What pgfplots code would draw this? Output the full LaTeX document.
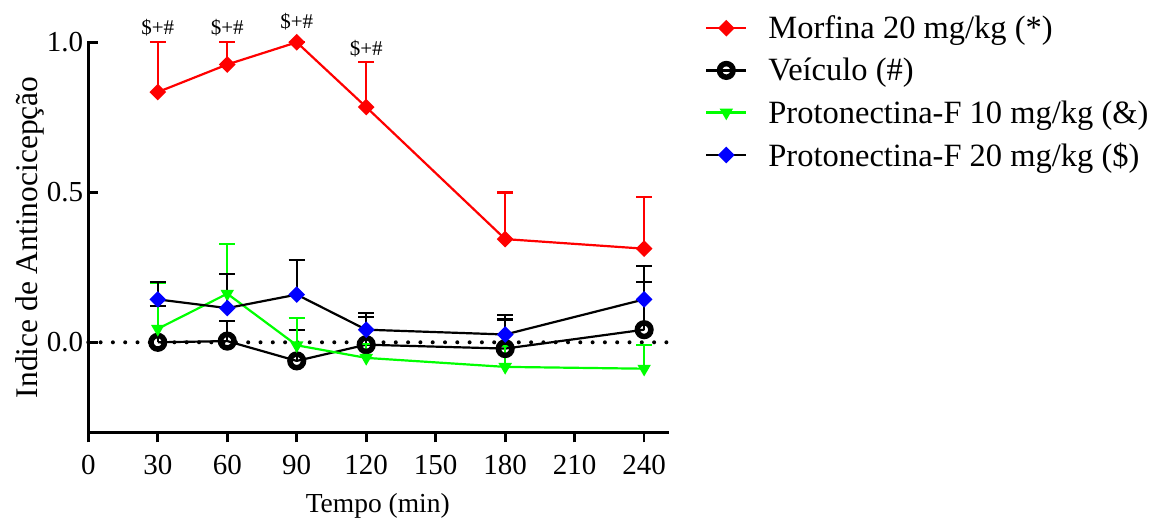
\documentclass[border=0pt]{standalone}
\usepackage{pgfplots}
\pgfplotsset{compat=1.18}
\usepackage{fontspec}
\setmainfont{Liberation Serif}
\definecolor{cred}{RGB}{255,0,0}
\definecolor{cgreen}{RGB}{0,255,0}
\definecolor{cblue}{RGB}{0,0,255}
\pgfdeclareplotmark{thicko}{%
  \pgfsetlinewidth{5.5pt}%
  \pgfpathcircle{\pgfpointorigin}{\pgfplotmarksize}%
  \pgfusepathqstroke}
\begin{document}
\begin{tikzpicture}
\path[use as bounding box] (-88.3pt,-85.7pt) rectangle (1065.7pt,432.3pt);
% overlay axis: only the outward x ticks
\begin{axis}[
  at={(0pt,0pt)}, anchor=south west,
  width=579pt, height=390pt, scale only axis,
  xmin=0, xmax=250, ymin=-0.3, ymax=1.0,
  axis x line*=bottom, axis y line=none,
  axis line style={line width=2.7pt, line cap=rect},
  xtick={0,30,...,240}, xticklabels={}, ytick=\empty,
  tick align=outside, major tick length=10pt,
  every tick/.style={black, line width=2.7pt},
]
\end{axis}
\begin{axis}[
  at={(0pt,0pt)}, anchor=south west,
  width=579pt, height=390pt, scale only axis,
  xmin=0, xmax=250, ymin=-0.3, ymax=1.0,
  clip=false,
  axis x line*=bottom, axis y line*=left,
  axis line style={line width=2.7pt, line cap=rect},
  xtick={0,30,...,240}, ytick={0,0.5,1},
  tick align=inside,
  major tick length=10pt,
  every tick/.style={black, line width=2.7pt},
  xtick style={draw=none},
  minor tick num=0,
  /pgf/number format/assume math mode=true,
  yticklabel style={/pgf/number format/fixed, /pgf/number format/fixed zerofill, /pgf/number format/precision=1, inner sep=0pt, anchor=east, xshift=-5pt},
  tick label style={font=\fontsize{29}{34}\selectfont},
  xticklabel style={anchor=base, inner sep=0pt, yshift=-42.7pt},
  xlabel={Tempo (min)},
  ylabel={Indice de Antinocicepção},
  every axis x label/.style={at={(axis description cs:0.5,0)}, yshift=-80.7pt, anchor=base, font=\fontsize{27.5}{32}\selectfont},
  every axis y label/.style={at={(axis description cs:-0.1007,0.5)}, rotate=90, anchor=center, font=\fontsize{31.5}{36}\selectfont},
  legend style={at={(axis description cs:1.0651,1.068)}, anchor=north west, draw=none, fill=none,
    inner sep=0pt, nodes={inner sep=0pt}, column sep=21pt, row sep=18pt,
    font=\fontsize{32.5}{37}\selectfont},
  legend cell align=left,
  legend image code/.code={\draw[mark repeat=2,mark phase=2] plot coordinates {(0pt,0pt) (20pt,0pt) (40pt,0pt)};},
]
\addplot[forget plot, black, line width=4pt, line cap=round, dash pattern=on 0pt off 12.3pt] coordinates {(0,0) (250,0)};

\addplot[cred, line width=2.2pt, mark=square*, mark size=4.8pt, mark options={rotate=45, solid},
  error bars/.cd, y dir=plus, y explicit, error bar style={line width=2.2pt, cred},
  error mark options={rotate=90, mark size=8pt, line width=2.2pt, cred}]
  table[x index=0, y index=1, y error index=2] {
30 0.834 0.166
60 0.926 0.074
90 1.000 0
120 0.784 0.149
180 0.344 0.155
240 0.312 0.172
};
\addlegendentry{Morfina 20 mg/kg (*)}

\addplot[black, line width=2.2pt, mark=thicko, mark size=6.8pt, mark options={solid},
  error bars/.cd, y dir=plus, y explicit, error bar style={line width=2.2pt, black},
  error mark options={rotate=90, mark size=8pt, line width=2.2pt, black}]
  table[x index=0, y index=1, y error index=2] {
30 0.000 0.120
60 0.004 0.067
90 -0.062 0.102
120 -0.008 0.106
180 -0.021 0.097
240 0.042 0.159
};
\addlegendentry{Veículo (\#)}

\addplot[cgreen, line width=2.2pt, mark=triangle*, mark size=5.6pt, mark options={rotate=180, solid},
  error bars/.cd, y dir=plus, y explicit, error bar style={line width=2.2pt, cgreen},
  error mark options={rotate=90, mark size=8pt, line width=2.2pt, cgreen}]
  table[x index=0, y index=1, y error index=2] {
30 0.045 0.152
60 0.162 0.165
90 -0.010 0.090
120 -0.052 0.047
180 -0.082 0.070
240 -0.088 0.078
};
\addlegendentry{Protonectina-F 10 mg/kg (\&)}

\addplot[black, line width=2.2pt, mark=square*, mark size=4.8pt, mark options={rotate=45, solid, cblue},
  error bars/.cd, y dir=plus, y explicit, error bar style={line width=2.2pt, black},
  error mark options={rotate=90, mark size=8pt, line width=2.2pt, black}]
  table[x index=0, y index=1, y error index=2] {
30 0.143 0.058
60 0.114 0.114
90 0.159 0.114
120 0.042 0.042
180 0.026 0.064
240 0.143 0.110
};
\addlegendentry{Protonectina-F 20 mg/kg (\$)}

\node[font=\fontsize{21}{25}\selectfont, anchor=center] at (axis cs:30,1.047) {\$+\#};
\node[font=\fontsize{21}{25}\selectfont, anchor=center] at (axis cs:60,1.047) {\$+\#};
\node[font=\fontsize{21}{25}\selectfont, anchor=center] at (axis cs:90,1.069) {\$+\#};
\node[font=\fontsize{21}{25}\selectfont, anchor=center] at (axis cs:120,0.977) {\$+\#};
\end{axis}
\end{tikzpicture}
\end{document}
